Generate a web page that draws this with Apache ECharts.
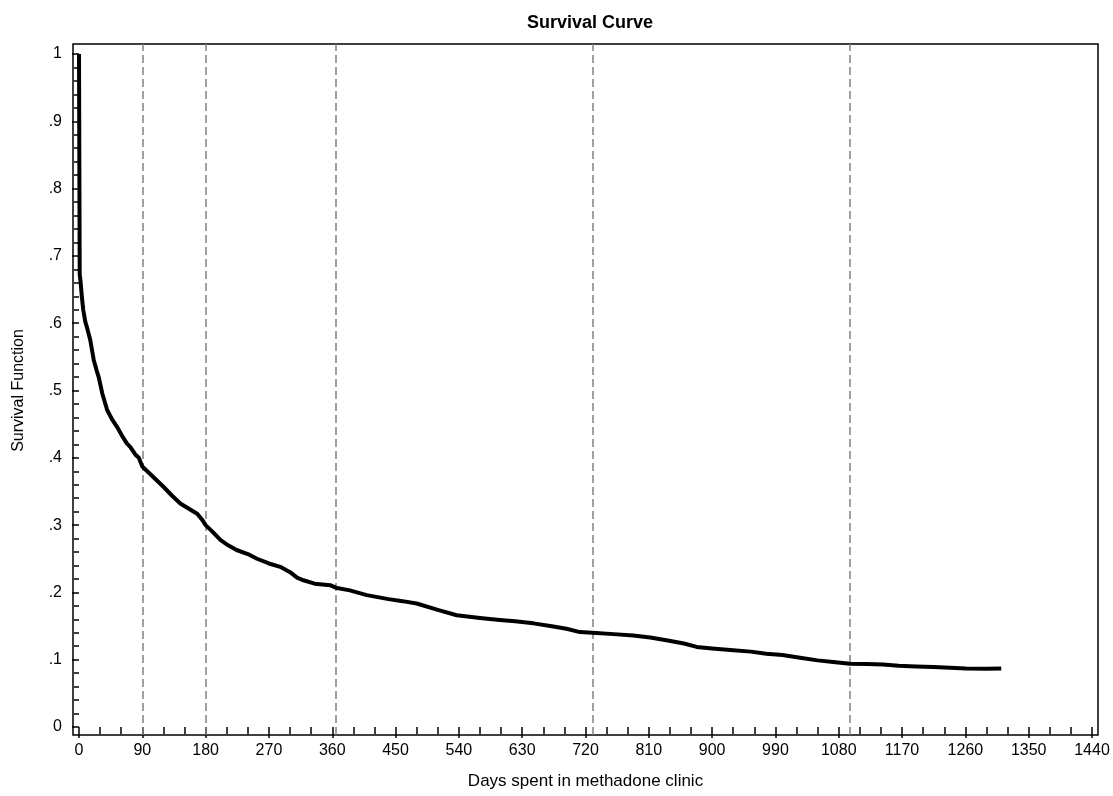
<!DOCTYPE html>
<html><head><meta charset="utf-8">
<script src="https://cdn.jsdelivr.net/npm/echarts@6/dist/echarts.min.js"></script>
<style>html,body{margin:0;padding:0;background:#fff}#c{width:1113px;height:796px}</style>
</head><body><div id="c"></div>
<script>
// Kaplan-Meier estimate
const days = [0,1,1,2,4,6,9,11,16,21,25,28,33,40,47,54,61,68,73,80,85,90,100,110,120,132,144,155,168,175,180,190,201,212,224,240,253,270,286,300,310,319,335,357,365,385,409,440,460,480,510,537,570,598,620,646,670,693,712,730,760,788,812,835,860,878,900,930,955,977,1000,1025,1050,1072,1096,1120,1143,1165,1190,1215,1238,1261,1290,1311];
const survival = [1,1,0.672,0.664,0.640,0.620,0.602,0.595,0.575,0.545,0.530,0.520,0.496,0.471,0.457,0.446,0.433,0.4215,0.416,0.405,0.400,0.387,0.377,0.367,0.357,0.344,0.332,0.325,0.317,0.308,0.300,0.290,0.278,0.270,0.263,0.257,0.250,0.243,0.238,0.230,0.222,0.218,0.213,0.2107,0.207,0.203,0.196,0.190,0.187,0.1835,0.174,0.166,0.162,0.159,0.157,0.154,0.150,0.146,0.141,0.140,0.138,0.136,0.133,0.129,0.124,0.119,0.1166,0.114,0.112,0.109,0.107,0.103,0.099,0.0967,0.094,0.0935,0.0928,0.091,0.090,0.089,0.088,0.087,0.0865,0.087];
const cutoffDays = [90, 180, 365, 730, 1095];
const xTickStart = 0, xTickEnd = 1440, xTickStep = 90;
const yTickStart = 0, yTickEnd = 1, yTickStep = 0.1;

// layout
const dataGrid = {left: 79, right: 21, top: 54, bottom: 69};
const frameGrid = {left: 73, right: 15, top: 44, bottom: 61};
const W = 1113, H = 796;
const pxPerDay = (W - dataGrid.left - dataGrid.right) / (xTickEnd - xTickStart);
const pxPerUnit = (H - dataGrid.top - dataGrid.bottom) / (yTickEnd - yTickStart);
const fxMin = xTickStart - (dataGrid.left - frameGrid.left) / pxPerDay;
const fxMax = xTickEnd + (dataGrid.right - frameGrid.right) / pxPerDay;
const fyMin = yTickStart - (dataGrid.bottom - frameGrid.bottom) / pxPerUnit;
const fyMax = yTickEnd + (dataGrid.top - frameGrid.top) / pxPerUnit;

const FONT = "'Liberation Sans', Arial, Helvetica, sans-serif";
const chart = echarts.init(document.getElementById('c'), null, {renderer: 'canvas'});
chart.setOption({
  animation: false,
  backgroundColor: '#fff',
  title: {
    text: 'Survival Curve', left: 522, top: 9,
    textStyle: {fontFamily: FONT, fontSize: 18, fontWeight: 'bold', color: '#000'}
  },
  grid: [
    Object.assign({show: false, containLabel: false}, dataGrid),
    Object.assign({show: true, borderColor: '#000', borderWidth: 1.5, backgroundColor: 'transparent'}, frameGrid)
  ],
  xAxis: [
    {
      type: 'value', gridIndex: 0, min: xTickStart, max: xTickEnd, interval: xTickStep,
      offset: dataGrid.bottom - frameGrid.bottom,
      axisLine: {show: false},
      axisTick: {show: true, length: 11, lineStyle: {color: '#000', width: 1.5}},
      minorTick: {show: true, splitNumber: 3, length: 7, lineStyle: {color: '#000', width: 1.5}},
      splitLine: {show: false},
      axisLabel: {margin: 8, color: '#000', fontFamily: FONT, fontSize: 16, formatter: v => String(v)},
      name: 'Days spent in methadone clinic', nameLocation: 'middle', nameGap: 38,
      nameTextStyle: {fontFamily: FONT, fontSize: 17, color: '#000'}
    },
    {type: 'value', gridIndex: 1, min: fxMin, max: fxMax, show: false}
  ],
  yAxis: [
    {
      type: 'value', gridIndex: 0, min: yTickStart, max: yTickEnd, interval: yTickStep,
      offset: dataGrid.left - frameGrid.left,
      axisLine: {show: false},
      axisTick: {show: true, length: 7, lineStyle: {color: '#000', width: 1.5}},
      minorTick: {show: true, splitNumber: 5, length: 5, lineStyle: {color: '#000', width: 1.5}},
      splitLine: {show: false},
      axisLabel: {
        margin: 11, color: '#000', fontFamily: FONT, fontSize: 16,
        formatter: v => (v === 0 ? '0' : v === 1 ? '1' : '.' + Math.round(v * 10))
      },
      name: 'Survival Function', nameLocation: 'middle', nameGap: 46,
      nameTextStyle: {fontFamily: FONT, fontSize: 16, color: '#000'}
    },
    {type: 'value', gridIndex: 1, min: fyMin, max: fyMax, show: false}
  ],
  series: [
    {
      type: 'line', xAxisIndex: 1, yAxisIndex: 1, data: [], silent: true,
      markLine: {
        silent: true, symbol: 'none', label: {show: false},
        lineStyle: {type: [8, 4], color: '#808080', width: 1.5},
        data: cutoffDays.map(d => ({xAxis: d}))
      }
    },
    {
      type: 'line', xAxisIndex: 0, yAxisIndex: 0,
      data: days.map((d, i) => [d, survival[i]]),
      showSymbol: false, symbol: 'none',
      lineStyle: {color: '#000', width: 4, join: 'round'},
      z: 5
    }
  ]
});
</script></body></html>
